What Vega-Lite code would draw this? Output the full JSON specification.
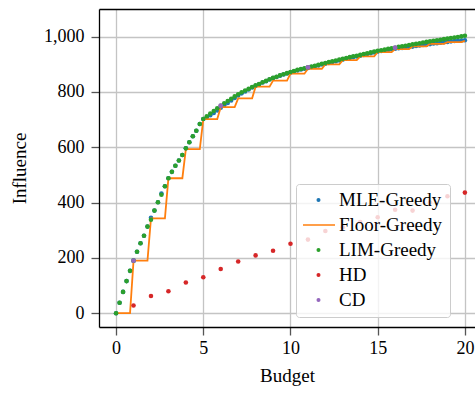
{
  "$schema": "https://vega.github.io/schema/vega-lite/v6.json",
  "width": 376,
  "height": 318,
  "autosize": {"type": "none"},
  "padding": {"left": 99, "top": 9, "right": 0, "bottom": 67},
  "datasets": {
    "greedy": [
      {"x": 0, "mle": 0, "floor": 0, "lim": 0},
      {"x": 0.2, "mle": 38, "floor": 0, "lim": 38},
      {"x": 0.4, "mle": 77, "floor": 0, "lim": 77},
      {"x": 0.6, "mle": 116, "floor": 0, "lim": 116},
      {"x": 0.8, "mle": 153, "floor": 0, "lim": 153},
      {"x": 1.0, "mle": 190, "floor": 190, "lim": 190},
      {"x": 1.2, "mle": 222, "floor": 190, "lim": 222},
      {"x": 1.4, "mle": 253, "floor": 190, "lim": 253},
      {"x": 1.6, "mle": 280, "floor": 190, "lim": 280},
      {"x": 1.8, "mle": 313, "floor": 190, "lim": 313},
      {"x": 2.0, "mle": 345, "floor": 343, "lim": 338},
      {"x": 2.2, "mle": 371, "floor": 343, "lim": 371},
      {"x": 2.4, "mle": 401, "floor": 343, "lim": 401},
      {"x": 2.6, "mle": 433, "floor": 343, "lim": 428},
      {"x": 2.8, "mle": 459, "floor": 343, "lim": 459},
      {"x": 3.0, "mle": 488, "floor": 488, "lim": 488},
      {"x": 3.2, "mle": 511, "floor": 488, "lim": 511},
      {"x": 3.4, "mle": 533, "floor": 488, "lim": 533},
      {"x": 3.6, "mle": 552, "floor": 488, "lim": 552},
      {"x": 3.8, "mle": 572, "floor": 488, "lim": 572},
      {"x": 4.0, "mle": 596, "floor": 593, "lim": 596},
      {"x": 4.2, "mle": 618, "floor": 593, "lim": 618},
      {"x": 4.4, "mle": 640, "floor": 593, "lim": 640},
      {"x": 4.6, "mle": 660, "floor": 593, "lim": 660},
      {"x": 4.8, "mle": 684, "floor": 593, "lim": 684},
      {"x": 5.0, "mle": 702, "floor": 702, "lim": 702},
      {"x": 5.2, "mle": 707, "floor": 702, "lim": 712},
      {"x": 5.4, "mle": 716, "floor": 702, "lim": 722},
      {"x": 5.6, "mle": 724, "floor": 702, "lim": 731},
      {"x": 5.8, "mle": 733, "floor": 702, "lim": 741},
      {"x": 6.0, "mle": 743, "floor": 745, "lim": 750},
      {"x": 6.2, "mle": 752, "floor": 745, "lim": 759},
      {"x": 6.4, "mle": 760, "floor": 745, "lim": 767},
      {"x": 6.6, "mle": 769, "floor": 745, "lim": 775},
      {"x": 6.8, "mle": 778, "floor": 745, "lim": 784},
      {"x": 7.0, "mle": 787, "floor": 777, "lim": 792},
      {"x": 7.2, "mle": 795, "floor": 777, "lim": 799},
      {"x": 7.4, "mle": 802, "floor": 777, "lim": 805},
      {"x": 7.6, "mle": 809, "floor": 777, "lim": 811},
      {"x": 7.8, "mle": 816, "floor": 777, "lim": 818},
      {"x": 8.0, "mle": 822, "floor": 819, "lim": 824},
      {"x": 8.2, "mle": 828, "floor": 819, "lim": 829},
      {"x": 8.4, "mle": 834, "floor": 819, "lim": 835},
      {"x": 8.6, "mle": 839, "floor": 819, "lim": 840},
      {"x": 8.8, "mle": 845, "floor": 819, "lim": 846},
      {"x": 9.0, "mle": 850, "floor": 841, "lim": 851},
      {"x": 9.2, "mle": 854, "floor": 841, "lim": 855},
      {"x": 9.4, "mle": 859, "floor": 841, "lim": 860},
      {"x": 9.6, "mle": 863, "floor": 841, "lim": 864},
      {"x": 9.8, "mle": 867, "floor": 841, "lim": 868},
      {"x": 10.0, "mle": 870, "floor": 866, "lim": 872},
      {"x": 10.2, "mle": 874, "floor": 866, "lim": 876},
      {"x": 10.4, "mle": 878, "floor": 866, "lim": 880},
      {"x": 10.6, "mle": 881, "floor": 866, "lim": 883},
      {"x": 10.8, "mle": 884, "floor": 866, "lim": 886},
      {"x": 11.0, "mle": 887, "floor": 884, "lim": 889},
      {"x": 11.2, "mle": 890, "floor": 884, "lim": 892},
      {"x": 11.4, "mle": 893, "floor": 884, "lim": 895},
      {"x": 11.6, "mle": 896, "floor": 884, "lim": 898},
      {"x": 11.8, "mle": 899, "floor": 884, "lim": 902},
      {"x": 12.0, "mle": 902, "floor": 900, "lim": 905},
      {"x": 12.2, "mle": 905, "floor": 900, "lim": 908},
      {"x": 12.4, "mle": 908, "floor": 900, "lim": 911},
      {"x": 12.6, "mle": 911, "floor": 900, "lim": 914},
      {"x": 12.8, "mle": 914, "floor": 900, "lim": 917},
      {"x": 13.0, "mle": 917, "floor": 915, "lim": 920},
      {"x": 13.2, "mle": 920, "floor": 915, "lim": 923},
      {"x": 13.4, "mle": 923, "floor": 915, "lim": 926},
      {"x": 13.6, "mle": 926, "floor": 915, "lim": 929},
      {"x": 13.8, "mle": 928, "floor": 915, "lim": 931},
      {"x": 14.0, "mle": 931, "floor": 929, "lim": 934},
      {"x": 14.2, "mle": 934, "floor": 929, "lim": 937},
      {"x": 14.4, "mle": 937, "floor": 929, "lim": 940},
      {"x": 14.6, "mle": 940, "floor": 929, "lim": 943},
      {"x": 14.8, "mle": 943, "floor": 929, "lim": 946},
      {"x": 15.0, "mle": 946, "floor": 944, "lim": 949},
      {"x": 15.2, "mle": 948, "floor": 944, "lim": 951},
      {"x": 15.4, "mle": 950, "floor": 944, "lim": 953},
      {"x": 15.6, "mle": 952, "floor": 944, "lim": 956},
      {"x": 15.8, "mle": 954, "floor": 944, "lim": 958},
      {"x": 16.0, "mle": 956, "floor": 955, "lim": 960},
      {"x": 16.2, "mle": 958, "floor": 955, "lim": 963},
      {"x": 16.4, "mle": 959, "floor": 955, "lim": 965},
      {"x": 16.6, "mle": 961, "floor": 955, "lim": 967},
      {"x": 16.8, "mle": 963, "floor": 955, "lim": 970},
      {"x": 17.0, "mle": 964, "floor": 965, "lim": 972},
      {"x": 17.2, "mle": 966, "floor": 965, "lim": 974},
      {"x": 17.4, "mle": 968, "floor": 965, "lim": 976},
      {"x": 17.6, "mle": 970, "floor": 965, "lim": 979},
      {"x": 17.8, "mle": 971, "floor": 965, "lim": 981},
      {"x": 18.0, "mle": 973, "floor": 974, "lim": 983},
      {"x": 18.2, "mle": 975, "floor": 974, "lim": 985},
      {"x": 18.4, "mle": 976, "floor": 974, "lim": 987},
      {"x": 18.6, "mle": 978, "floor": 974, "lim": 989},
      {"x": 18.8, "mle": 980, "floor": 974, "lim": 991},
      {"x": 19.0, "mle": 981, "floor": 980, "lim": 993},
      {"x": 19.2, "mle": 983, "floor": 980, "lim": 995},
      {"x": 19.4, "mle": 984, "floor": 980, "lim": 997},
      {"x": 19.6, "mle": 985, "floor": 980, "lim": 999},
      {"x": 19.8, "mle": 986, "floor": 980, "lim": 1001},
      {"x": 20.0, "mle": 987, "floor": 985, "lim": 1003}
    ],
    "hd": [
      {"x": 1, "y": 28}, {"x": 2, "y": 62}, {"x": 3, "y": 79}, {"x": 4, "y": 111},
      {"x": 5, "y": 130}, {"x": 6, "y": 160}, {"x": 7, "y": 187}, {"x": 8, "y": 209},
      {"x": 9, "y": 226}, {"x": 10, "y": 251}, {"x": 11, "y": 266}, {"x": 12, "y": 297},
      {"x": 13, "y": 311}, {"x": 14, "y": 330}, {"x": 15, "y": 347}, {"x": 16, "y": 374},
      {"x": 17, "y": 371}, {"x": 18, "y": 400}, {"x": 19, "y": 423}, {"x": 20, "y": 436}
    ],
    "cd": [
      {"x": 1, "y": 190}, {"x": 6, "y": 750}, {"x": 11, "y": 889}, {"x": 16, "y": 960}
    ]
  },
  "resolve": {"axis": {"x": "independent"}},
  "layer": [
    {
      "data": {"name": "greedy"},
      "mark": {"type": "point", "filled": true, "size": 21, "opacity": 1},
      "encoding": {
        "x": {"field": "x", "type": "quantitative", "scale": {"domain": [-0.98, 20.58], "nice": false, "zero": false},
              "axis": {"values": [0, 5, 10, 15, 20], "title": "Budget", "titlePadding": 9}},
        "y": {"field": "mle", "type": "quantitative", "scale": {"domain": [-50, 1100], "nice": false, "zero": false},
              "axis": {"values": [0, 200, 400, 600, 800, 1000], "format": ",d", "title": "Influence", "titlePadding": 14, "labelPadding": 7}},
        "color": {
          "datum": "MLE-Greedy",
          "scale": {"domain": ["MLE-Greedy", "Floor-Greedy", "LIM-Greedy", "HD", "CD"], "range": ["#1f77b4", "#ff7f0e", "#2ca02c", "#d62728", "#9467bd"]},
          "legend": {
            "orient": "none", "legendX": 197, "legendY": 175, "title": null,
            "labelFontSize": 19, "labelFont": "Liberation Serif", "labelColor": "#000",
            "fillColor": "rgba(255,255,255,0.8)", "strokeColor": "#cccccc", "cornerRadius": 3,
            "padding": 7, "symbolSize": 6, "clipHeight": 18, "rowPadding": 6,
            "symbolOffset": 6, "labelOffset": 11, "symbolStrokeWidth": 1.6, "symbolOpacity": 1
          }
        },
        "shape": {
          "datum": "MLE-Greedy",
          "scale": {"domain": ["MLE-Greedy", "Floor-Greedy", "LIM-Greedy", "HD", "CD"], "range": ["circle", "M-13.5,0L13.5,0", "circle", "circle", "circle"]},
          "legend": {"title": null}
        }
      }
    },
    {
      "data": {"name": "greedy"},
      "mark": {"type": "line", "strokeWidth": 1.8},
      "encoding": {
        "x": {"field": "x", "type": "quantitative",
              "axis": {"orient": "top", "labels": false, "ticks": false, "grid": false, "title": null, "domain": true}},
        "y": {"field": "floor", "type": "quantitative"},
        "color": {"datum": "Floor-Greedy"}
      }
    },
    {
      "data": {"name": "greedy"},
      "mark": {"type": "point", "filled": true, "size": 21, "opacity": 1},
      "encoding": {
        "x": {"field": "x", "type": "quantitative", "axis": null},
        "y": {"field": "lim", "type": "quantitative"},
        "color": {"datum": "LIM-Greedy"},
        "shape": {"datum": "LIM-Greedy"}
      }
    },
    {
      "data": {"name": "hd"},
      "mark": {"type": "point", "filled": true, "size": 21, "opacity": 1},
      "encoding": {
        "x": {"field": "x", "type": "quantitative", "axis": null},
        "y": {"field": "y", "type": "quantitative"},
        "color": {"datum": "HD"},
        "shape": {"datum": "HD"}
      }
    },
    {
      "data": {"name": "cd"},
      "mark": {"type": "point", "filled": true, "size": 24, "opacity": 1},
      "encoding": {
        "x": {"field": "x", "type": "quantitative", "axis": null},
        "y": {"field": "y", "type": "quantitative"},
        "color": {"datum": "CD"},
        "shape": {"datum": "CD"}
      }
    }
  ],
  "config": {
    "font": "Liberation Serif",
    "view": {"stroke": null},
    "axis": {
      "labelFont": "Liberation Serif", "labelFontSize": 18, "labelColor": "#000",
      "titleFont": "Liberation Serif", "titleFontSize": 19, "titleFontWeight": "normal", "titleColor": "#000",
      "gridColor": "#c4c4c4", "gridWidth": 1.3, "tickColor": "#555", "tickSize": 8, "tickWidth": 1.3,
      "domainColor": "#000", "domainWidth": 1.3, "labelPadding": 4
    }
  }
}
